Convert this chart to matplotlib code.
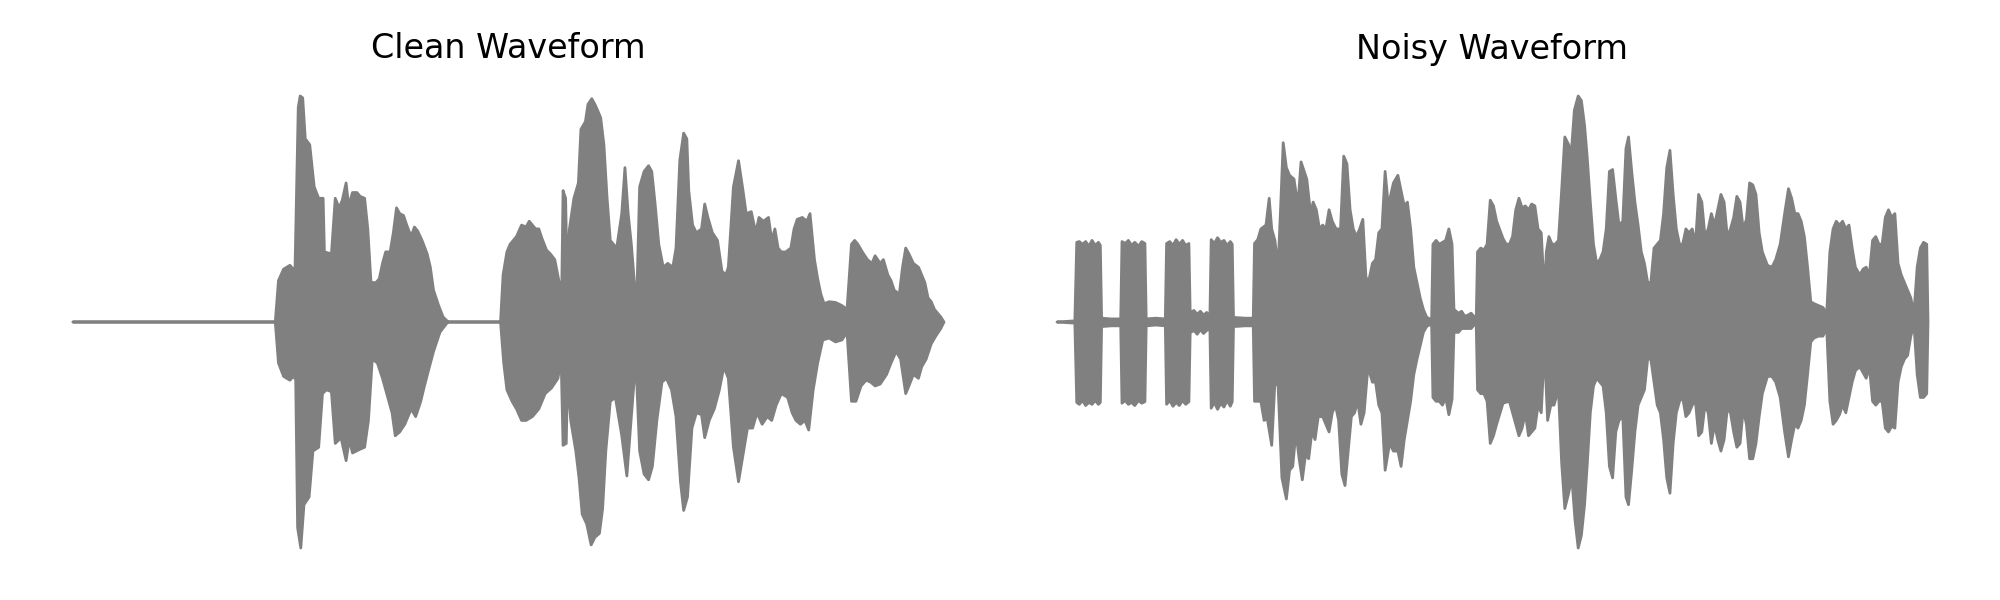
import numpy as np
import matplotlib
matplotlib.use("Agg")
import matplotlib.pyplot as plt

# Envelope of each waveform.
# frame index (arbitrary offset) and amplitude (arbitrary units, peak ~590)
clean_hi_t = [115, 432, 437, 445, 455, 460, 463, 468, 471, 475, 479, 486, 490, 493, 500, 507, 509, 520,
              526, 532, 537, 543, 547, 553, 560, 565, 572, 577, 582, 590, 595, 600, 605, 612, 617, 622,
              627, 633, 638, 645, 650, 655, 662, 670, 675, 680, 688, 695, 703, 785, 789, 795, 800, 810,
              818, 825, 830, 840, 845, 850, 857, 863, 870, 877, 881, 883, 887, 889, 893, 900, 907, 911,
              918, 922, 928, 933, 937, 942, 947, 952, 957, 962, 967, 975, 980, 985, 990, 995, 999, 1003,
              1010, 1017, 1022, 1027, 1033, 1040, 1047, 1055, 1060, 1066, 1072, 1077, 1080, 1086, 1092,
              1100, 1105, 1110, 1117, 1125, 1132, 1138, 1142, 1150, 1158, 1165, 1170, 1178, 1185, 1190,
              1197, 1205, 1210, 1215, 1220, 1225, 1232, 1240, 1245, 1250, 1258, 1265, 1270, 1277, 1282,
              1287, 1292, 1300, 1310, 1320, 1328, 1335, 1340, 1345, 1352, 1360, 1367, 1372, 1380, 1385,
              1392, 1397, 1402, 1410, 1415, 1420, 1425, 1432, 1440, 1445, 1450, 1455, 1460, 1465, 1470,
              1475, 1480]
clean_hi = [0, 0, 108, 138, 148, 138, 143, 560, 590, 585, 478, 463, 400, 353, 323, 323, 183, 178,
            323, 298, 318, 363, 303, 338, 338, 328, 323, 243, 103, 103, 113, 153, 183, 183, 233, 298,
            283, 278, 253, 223, 248, 238, 213, 178, 143, 83, 43, 13, 0, 0, 123, 183, 203, 223,
            253, 248, 263, 243, 243, 218, 188, 178, 163, 103, 93, 343, 323, 143, 243, 323, 363, 503,
            523, 568, 583, 568, 553, 533, 463, 323, 213, 203, 193, 283, 403, 283, 203, 98, 93, 353,
            393, 408, 393, 313, 203, 143, 153, 143, 193, 423, 493, 478, 343, 253, 233,
            243, 308, 273, 233, 213, 133, 123, 143, 353, 421, 343, 283, 288, 233, 273,
            263, 273, 213, 243, 193, 183, 183, 193, 243, 268, 273, 263, 283, 163, 113,
            73, 48, 53, 51, 43, 33, 203, 213, 203, 183, 163, 153, 173, 153, 163,
            123, 108, 83, 73, 143, 193, 178, 153, 143, 123, 103, 63, 53, 33, 23,
            13, 0]

clean_lo_t = [115, 432, 437, 445, 455, 460, 464, 467, 472, 477, 485, 491, 500, 506, 512, 520, 526, 535,
              543, 548, 553, 565, 572, 578, 584, 592, 600, 605, 615, 620, 627, 635, 645, 652, 660, 665,
              672, 680, 690, 700, 703, 785, 790, 795, 803, 810, 818, 825, 835, 845, 855, 865, 875, 880,
              883, 888, 890, 895, 903, 908, 913, 920, 927, 933, 940, 945, 950, 957, 965, 975, 983, 990,
              997, 1003, 1010, 1017, 1023, 1030, 1038, 1045, 1053, 1060, 1067, 1072, 1078, 1085, 1092,
              1100, 1105, 1112, 1120, 1128, 1135, 1142, 1150, 1158, 1165, 1172, 1180, 1187, 1195, 1203,
              1210, 1217, 1225, 1235, 1242, 1248, 1255, 1262, 1268, 1275, 1282, 1290, 1300, 1310, 1320,
              1328, 1335, 1342, 1350, 1358, 1365, 1372, 1380, 1390, 1397, 1405, 1412, 1420, 1425, 1432,
              1440, 1445, 1452, 1460, 1467, 1475, 1480]
clean_lo = [0, 0, -107, -142, -152, -142, -150, -537, -590, -477, -457, -337, -327, -187, -177, -182, -317, -302,
            -362, -307, -342, -332, -327, -257, -97, -107, -147, -177, -237, -297, -287, -267, -227, -247, -207, -172,
            -127, -77, -27, -5, 0, 0, -107, -177, -207, -227, -257, -257, -247, -227, -187, -172, -147, -97,
            -322, -317, -147, -257, -337, -407, -502, -527, -582, -562, -552, -487, -337, -207, -197, -297, -402, -247,
            -97, -337, -397, -412, -377, -257, -157, -147, -177, -247, -417, -492, -457, -277, -237,
            -242, -302, -257, -227, -177, -117, -147, -327, -417, -347, -277, -277, -237, -267, -247,
            -257, -217, -187, -197, -237, -257, -267, -257, -282, -177, -107, -47, -42, -52, -47,
            -27, -207, -207, -167, -152, -157, -167, -162, -137, -107, -77, -97, -187, -167, -137,
            -147, -117, -97, -57, -37, -17, 0]

noisy_hi_t = [90, 118, 121, 125, 130, 135, 140, 145, 150, 155, 158, 160, 175, 190, 192, 197, 202, 207,
              212, 218, 223, 228, 230, 245, 260, 262, 267, 272, 277, 282, 287, 292, 297, 299, 305, 310,
              315, 320, 325, 330, 332, 337, 342, 347, 352, 357, 362, 365, 367, 385, 398, 400, 405, 410,
              418, 423, 427, 432, 437, 441, 445, 450, 455, 462, 468, 473, 478, 482, 488, 492, 497, 502,
              507, 512, 517, 522, 528, 535, 540, 545, 550, 555, 560, 565, 570, 575, 580, 585, 590, 595,
              600, 605, 610, 618, 625, 630, 635, 640, 645, 650, 655, 660, 665, 670, 675, 678, 680, 685,
              690, 695, 700, 705, 710, 713, 720, 725, 730, 735, 740, 745, 748, 750, 755, 760, 765, 770,
              775, 780, 790, 795, 800, 805, 810, 815, 820, 825, 830, 835, 840, 845, 850, 855, 858, 862,
              867, 872, 877, 882, 887, 893, 897, 902, 908, 913, 918, 922, 927, 932, 937, 942, 947, 952,
              957, 962, 967, 972, 978, 983, 987, 992, 997, 1002, 1007, 1012, 1017, 1022, 1027, 1032,
              1037, 1042, 1047, 1052, 1057, 1062, 1067, 1072, 1077, 1082, 1087, 1092, 1097, 1102, 1107,
              1112, 1117, 1122, 1127, 1132, 1137, 1142, 1147, 1152, 1157, 1162, 1167, 1172, 1177, 1182,
              1187, 1192, 1197, 1205, 1212, 1218, 1225, 1232, 1238, 1243, 1248, 1253, 1258, 1263, 1268,
              1273, 1278, 1285, 1292, 1298, 1303, 1308, 1313, 1318, 1323, 1328, 1333, 1338, 1343, 1350,
              1355, 1360, 1365, 1370, 1375, 1380, 1385, 1390, 1395, 1400, 1405, 1410, 1415, 1420, 1425,
              1430, 1435, 1440, 1445, 1450, 1455, 1457]
noisy_hi = [0, 3, 208, 210, 203, 210, 198, 213, 200, 208, 200, 10, 8, 8, 210, 205, 213, 200,
            208, 198, 210, 205, 8, 10, 8, 205, 210, 200, 215, 203, 213, 200, 205, 25, 30, 20,
            28, 18, 25, 15, 215, 205, 220, 208, 213, 200, 210, 203, 12, 10, 10, 205, 215, 243,
            253, 323, 243, 213, 143, 300, 468, 403, 383, 373, 303, 418, 393, 373, 283, 313, 293, 243,
            253, 243, 293, 263, 243, 243, 433, 413, 293, 243, 223, 243, 268, 113, 113, 153, 163, 233,
            243, 393, 303, 363, 383, 343, 303, 313, 243, 143, 103, 63, 33, 13, 8, 10, 203, 213,
            203, 208, 213, 243, 203, 33, 23, 28, 15, 18, 23, 13, 13, 183, 193, 188, 203, 318,
            303, 263, 218, 203, 203, 223, 293, 323, 298, 303, 293, 308, 303, 243, 233, 73, 183, 223,
            203, 203, 213, 343, 483, 463, 438, 553, 590, 578, 513, 433, 313, 203, 153, 163, 183, 243,
            393, 398, 323, 253, 263, 453, 483, 393, 313, 253, 183, 153, 103, 103, 193, 203,
            213, 283, 403, 448, 333, 243, 203, 203, 243, 233, 243, 203, 333, 313, 223,
            243, 283, 253, 293, 333, 313, 223, 243, 273, 328, 313, 243, 268, 363, 358,
            333, 233, 183, 148, 143, 163, 203, 283, 348, 323, 283, 283, 263, 223, 143,
            53, 48, 43, 38, 23, 183, 243, 263, 253, 263, 243, 253, 193, 143, 123,
            138, 143, 123, 213, 223, 203, 203, 273, 293, 273, 283, 153, 123, 103, 83,
            63, 23, 143, 193, 208, 203, 0]

noisy_lo_t = [90, 118, 121, 125, 130, 135, 140, 145, 150, 155, 158, 160, 175, 190, 192, 197, 202, 207,
              212, 218, 223, 228, 230, 245, 260, 262, 267, 272, 277, 282, 287, 292, 297, 299, 305, 310,
              315, 320, 325, 330, 332, 337, 342, 347, 352, 357, 362, 365, 367, 385, 398, 400, 410, 415,
              420, 427, 432, 437, 443, 450, 455, 460, 465, 470, 475, 480, 485, 490, 495, 500, 507, 512,
              517, 522, 527, 532, 537, 542, 547, 552, 557, 562, 567, 572, 578, 585, 590, 595, 600, 605,
              612, 618, 625, 630, 635, 640, 645, 650, 655, 660, 665, 670, 675, 678, 680, 685, 690, 695,
              700, 705, 710, 713, 720, 725, 730, 740, 745, 748, 750, 755, 760, 765, 770, 775, 780, 790,
              800, 805, 810, 815, 820, 825, 830, 835, 840, 845, 850, 855, 860, 865, 870, 877, 882, 887,
              893, 898, 903, 908, 913, 918, 922, 927, 932, 937, 942, 947, 952, 957, 962, 967, 972, 978,
              983, 987, 992, 997, 1002, 1007, 1012, 1017, 1022, 1027, 1032, 1037, 1042, 1047, 1052, 1057,
              1062, 1067, 1072, 1077, 1082, 1087, 1092, 1097, 1102, 1107, 1112, 1117, 1122, 1127, 1132,
              1137, 1142, 1147, 1152, 1157, 1162, 1167, 1172, 1177, 1182, 1187, 1192, 1197, 1205, 1212,
              1218, 1225, 1232, 1238, 1243, 1248, 1253, 1258, 1263, 1268, 1273, 1278, 1285, 1292, 1298,
              1303, 1308, 1313, 1318, 1323, 1328, 1333, 1338, 1343, 1350, 1355, 1360, 1365, 1370, 1375,
              1380, 1385, 1390, 1395, 1400, 1405, 1410, 1415, 1420, 1425, 1430, 1435, 1440, 1445, 1450,
              1455, 1457]
noisy_lo = [0, -3, -210, -215, -205, -218, -210, -215, -205, -215, -210, -12, -10, -10, -212, -205, -215, -210,
            -218, -205, -212, -208, -10, -8, -10, -215, -205, -220, -210, -218, -205, -215, -208, -28, -22, -32,
            -20, -30, -22, -18, -225, -210, -228, -212, -222, -205, -220, -208, -12, -10, -10, -207, -207, -257,
            -252, -322, -157, -167, -407, -462, -387, -377, -287, -357, -412, -347, -357, -287, -307, -247, -247, -267,
            -287, -237, -217, -257, -397, -427, -337, -247, -237, -207, -267, -237, -117, -157, -157, -217, -237, -387,
            -317, -337, -337, -377, -307, -257, -207, -137, -97, -62, -27, -12, -7, -10, -197, -207, -207, -217,
            -197, -242, -202, -27, -27, -17, -17, -17, -7, -10, -177, -187, -187, -207, -317, -297, -267, -212,
            -207, -237, -267, -297, -277, -237, -297, -287, -277, -217, -237, -67, -257, -217, -217, -177, -367, -487,
            -447, -407, -517, -590, -557, -477, -377, -237, -167, -147, -157, -167, -237, -377, -407, -287, -257, -247,
            -457, -477, -387, -287, -217, -197, -177, -97, -97, -157, -217, -237, -307, -407, -447, -317,
            -237, -207, -197, -247, -237, -217, -207, -297, -287, -217, -237, -317, -267, -307, -337,
            -307, -227, -237, -287, -327, -317, -227, -267, -357, -357, -317, -247, -187, -142, -142,
            -157, -197, -287, -352, -307, -267, -277, -257, -217, -137, -52, -42, -37, -37, -17,
            -207, -267, -257, -242, -217, -237, -197, -157, -127, -117, -132, -147, -117, -207, -217,
            -207, -207, -277, -287, -272, -277, -157, -117, -97, -87, -37, -7, -137, -197, -197,
            -187, 0]

titles = ["Clean Waveform", "Noisy Waveform"]
waves = [(clean_hi_t, clean_hi, clean_lo_t, clean_lo),
         (noisy_hi_t, noisy_hi, noisy_lo_t, noisy_lo)]

fig = plt.figure(figsize=(20, 6), dpi=100)
lefts = [73 / 2000, 1057 / 2000]

for left, title, (ht, hv, lt, lv) in zip(lefts, titles, waves):
    ax = fig.add_axes([left, 52 / 600, 871 / 2000, 452 / 600])
    ht = np.array(ht) - ht[0]
    lt = np.array(lt) - lt[0]
    # upper envelope forward, lower envelope back
    xs = np.concatenate([ht, lt[::-1]])
    ys = np.concatenate([hv, lv[::-1]])
    ax.fill(xs, ys, color='gray', linewidth=2.0, joinstyle='round', clip_on=False)
    ax.set_xlim(0, ht[-1])
    ax.set_ylim(-590, 590)
    ax.set_title(title, fontsize=24, pad=27)
    ax.axis('off')

fig.savefig('out.png', dpi=100)
